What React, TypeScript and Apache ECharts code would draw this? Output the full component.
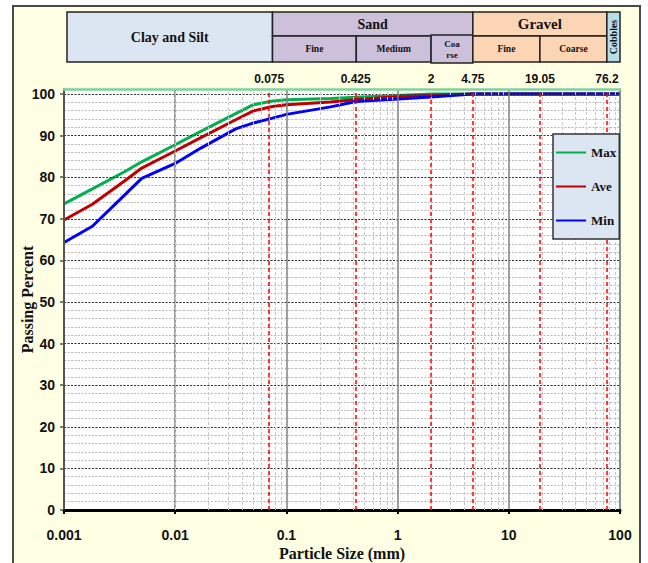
import React, { useEffect, useRef } from 'react';
import * as echarts from 'echarts';

// Particle sizes (mm) where the curves are sampled
const particleSizes = [0.001, 0.0018, 0.0035, 0.005, 0.01, 0.017, 0.035, 0.05, 0.075, 0.1, 0.25, 0.425, 0.85, 2, 4.75, 9.5, 19.05, 37.5, 76.2, 100];
// Passing percent for each curve
const maxPassing = [73.6, 77.2, 81.3, 83.7, 87.8, 91.0, 95.3, 97.4, 98.3, 98.6, 98.9, 99.2, 99.6, 100, 100, 100, 100, 100, 100, 100];
const avePassing = [69.7, 73.5, 79.1, 82.2, 86.3, 89.5, 93.8, 95.9, 97.0, 97.4, 98.1, 98.7, 99.2, 99.7, 100, 100, 100, 100, 100, 100];
const minPassing = [64.3, 68.2, 75.7, 79.7, 83.3, 87.0, 91.6, 93.0, 94.2, 95.1, 96.9, 98.2, 98.7, 99.3, 100, 100, 100, 100, 100, 100];

const seriesNames = ['Max', 'Ave', 'Min'];
const seriesColors = ['#00B050', '#C00000', '#0000FF'];

// Sieve boundaries (red dashed lines)
const sieveSizes = [0.075, 0.425, 2, 4.75, 19.05, 76.2];
const sieveLabels = ['0.075', '0.425', '2', '4.75', '19.05', '76.2'];

// Classification header
const mainClasses = ['Clay and Silt', 'Sand', 'Gravel', 'Cobbles'];
const sandSub = ['Fine', 'Medium', 'Coa\nrse'];
const gravelSub = ['Fine', 'Coarse'];

const xMin = 0.001;
const xMax = 100;
const yMax = 101.2;

const SERIF = '"Liberation Serif", "Times New Roman", serif';
const SANS = '"Liberation Sans", Arial, sans-serif';

export default function App() {
  const ref = useRef<HTMLDivElement>(null);

  useEffect(() => {
    const chart = echarts.init(ref.current!, null, { renderer: 'svg' });

    const decades = [0.001, 0.01, 0.1, 1, 10];
    const minorX: number[] = [];
    decades.forEach((d) => {
      for (let m = 2; m <= 9; m++) minorX.push(+(d * m).toPrecision(3));
    });

    const curves = [maxPassing, avePassing, minPassing];

    const option: any = {
      animation: false,
      backgroundColor: 'transparent',
      grid: {
        left: 64,
        right: 28,
        top: 89,
        bottom: 53,
        show: true,
        backgroundColor: '#ffffff',
        borderWidth: 0,
        containLabel: false,
        outerBoundsMode: 'none',
      },
      legend: {
        data: seriesNames,
        orient: 'vertical',
        left: 553,
        top: 134,
        z: 20,
        backgroundColor: '#DCE6F2',
        borderColor: '#333',
        borderWidth: 1.5,
        padding: [12, 3, 12, 3],
        itemGap: 21,
        itemWidth: 30,
        itemHeight: 2,
        icon: 'rect',
        textStyle: { fontFamily: SERIF, fontWeight: 'bold', fontSize: 13, color: '#111' },
      },
      xAxis: [
        {
          type: 'log',
          logBase: 10,
          min: xMin,
          max: xMax,
          splitNumber: 5,
          position: 'bottom',
          name: 'Particle Size (mm)',
          nameLocation: 'middle',
          nameGap: 35,
          nameMoveOverlap: false,
          nameTextStyle: { fontFamily: SERIF, fontWeight: 'bold', fontSize: 16, color: '#111' },
          axisLine: { show: true, onZero: false, lineStyle: { color: '#000', width: 3 } },
          axisTick: { show: true, length: 4, lineStyle: { color: '#000', width: 2 } },
          axisLabel: { margin: 18, fontFamily: SANS, fontWeight: 'bold', fontSize: 14, color: '#111' },
          splitLine: { show: true, lineStyle: { color: '#808080', width: 1.5 } },
          z: 4,
        },
        {
          type: 'log',
          logBase: 10,
          min: xMin,
          max: xMax,
          position: 'top',
          axisLine: { show: true, onZero: false, lineStyle: { color: '#7FD39A', width: 2.5 } },
          axisTick: { show: false },
          axisLabel: { show: false },
          splitLine: { show: false },
          z: 6,
        },
      ],
      yAxis: [
        {
          type: 'value',
          min: 0,
          max: yMax,
          interval: 10,
          position: 'left',
          name: 'Passing Percent',
          nameLocation: 'middle',
          nameGap: 29,
          nameMoveOverlap: false,
          nameTextStyle: { fontFamily: SERIF, fontWeight: 'bold', fontSize: 16, color: '#111' },
          axisLine: { show: true, onZero: false, lineStyle: { color: '#555', width: 2 } },
          axisTick: { show: true, length: 4, lineStyle: { color: '#555', width: 1.5 } },
          axisLabel: {
            margin: 9,
            showMaxLabel: false,
            fontFamily: SANS,
            fontWeight: 'bold',
            fontSize: 14,
            color: '#111',
            formatter: (v: number) => (Math.abs(v % 10) < 1e-6 ? String(v) : ''),
          },
          splitLine: { show: true, lineStyle: { color: '#333', width: 1.2, type: [2, 1.5] } },
          z: 4,
        },
        {
          type: 'value',
          min: 0,
          max: yMax,
          interval: 2,
          position: 'right',
          axisLine: { show: true, onZero: false, lineStyle: { color: '#7FD39A', width: 2 } },
          axisTick: { show: false },
          axisLabel: { show: false },
          splitLine: { show: true, lineStyle: { color: '#b8b8b8', width: 1, type: [2, 1.5] } },
          z: 1,
        },
      ],
      series: [
        {
          type: 'line',
          name: '__minor',
          data: [],
          silent: true,
          z: 1,
          markLine: {
            silent: true,
            symbol: ['none', 'none'],
            label: { show: false },
            lineStyle: { color: '#c8c8c8', width: 1, type: [3, 2] },
            data: minorX.map((v) => ({ xAxis: v })),
          },
        },
        ...curves.map((vals, i) => ({
          type: 'line',
          name: seriesNames[i],
          color: seriesColors[i],
          symbol: 'none',
          z: 3,
          lineStyle: { color: seriesColors[i], width: 3 },
          data: particleSizes.map((s, j) => [s, vals[j]]),
        })),
        {
          type: 'line',
          name: '__sieve',
          data: [],
          silent: true,
          z: 4,
          markLine: {
            silent: true,
            symbol: ['none', 'none'],
            lineStyle: { color: '#FF0000', width: 1.5, type: [4, 3] },
            label: {
              show: true,
              position: 'end',
              distance: 4,
              formatter: '{b}',
              fontFamily: SANS,
              fontWeight: 'bold',
              fontSize: 12,
              color: '#111',
            },
            data: sieveSizes.map((v, i) => ({ xAxis: v, name: sieveLabels[i] })),
          },
        },
      ],
    };

    chart.setOption(option);

    const px = (v: number) => chart.convertToPixel({ xAxisIndex: 0 }, v) as number;
    const top = 12;
    const mid = 36;
    const bot = 62;
    const left = 67;
    const b1 = px(0.075);
    const s1 = px(0.425);
    const s2 = px(2);
    const b2 = px(4.75);
    const g1 = px(19.05);
    const b3 = px(76.2);
    const right = px(100);

    const stroke = { stroke: '#222', lineWidth: 1.5 };
    const rect = (x: number, y: number, w: number, h: number, fill: string) => ({
      type: 'rect',
      shape: { x, y, width: w, height: h },
      style: { fill, ...stroke },
      silent: true,
    });
    const text = (x: number, y: number, t: string, size: number, rotation = 0) => ({
      type: 'text',
      x,
      y,
      rotation,
      silent: true,
      style: {
        text: t,
        align: 'center',
        verticalAlign: 'middle',
        fill: '#111',
        font: `bold ${size}px ${SERIF}`,
        lineHeight: size + 2,
      },
    });

    const clay = '#DCE6F2';
    const sand = '#CCC0DA';
    const gravel = '#FCD5B5';
    const cobble = '#B7DEE8';

    const elements: any[] = [
      rect(left, top, b1 - left, bot - top, clay),
      rect(b1, top, b2 - b1, mid - top, sand),
      rect(b1, mid, s1 - b1, bot - mid, sand),
      rect(s1, mid, s2 - s1, bot - mid, sand),
      rect(s2, mid - 1, b2 - s2, bot - mid + 2, sand),
      rect(b2, top, b3 - b2, mid - top, gravel),
      rect(b2, mid, g1 - b2, bot - mid, gravel),
      rect(g1, mid, b3 - g1, bot - mid, gravel),
      rect(b3, top, right - b3, bot - top, cobble),
      text((left + b1) / 2, (top + bot) / 2, mainClasses[0], 14),
      text((b1 + b2) / 2, (top + mid) / 2, mainClasses[1], 14),
      text((b2 + b3) / 2, (top + mid) / 2, mainClasses[2], 15),
      text((b3 + right) / 2, (top + bot) / 2, mainClasses[3], 10, Math.PI / 2),
      text((b1 + s1) / 2, (mid + bot) / 2, sandSub[0], 9.5),
      text((s1 + s2) / 2, (mid + bot) / 2, sandSub[1], 9.5),
      text((s2 + b2) / 2, (mid + bot) / 2, sandSub[2], 9),
      text((b2 + g1) / 2, (mid + bot) / 2, gravelSub[0], 9.5),
      text((g1 + b3) / 2, (mid + bot) / 2, gravelSub[1], 9.5),
    ];

    chart.setOption({ graphic: { elements } });

    return () => chart.dispose();
  }, []);

  return (
    <div style={{ position: 'fixed', left: 0, top: 0, width: 648, height: 563, background: '#fff', overflow: 'hidden' }}>
      <div
        style={{
          position: 'absolute',
          left: 12,
          top: 5,
          width: 629,
          height: 620,
          background: '#FFFFE3',
          border: '2px solid #4a4a4a',
          boxSizing: 'border-box',
        }}
      />
      <div ref={ref} style={{ position: 'absolute', left: 0, top: 0, width: 648, height: 563 }} />
    </div>
  );
}
